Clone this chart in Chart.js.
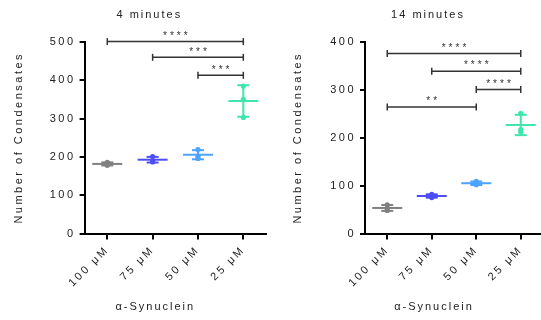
<!DOCTYPE html>
<html><head><meta charset="utf-8">
<script src="https://cdn.jsdelivr.net/npm/chart.js@4/dist/chart.umd.min.js"></script>
<style>
html,body{margin:0;padding:0;background:#fff;overflow:hidden;width:541px;height:320px;position:relative;}
#c1{position:absolute;left:0;top:0;width:270px;height:320px;}
#c2{position:absolute;left:270px;top:0;width:273px;height:320px;}
</style></head><body>
<canvas id="c1" width="270" height="320"></canvas>
<canvas id="c2" width="273" height="320"></canvas>
<script>
// ---- data ----
const categories = ['100 μM', '75 μM', '50 μM', '25 μM'];
const seriesColors = ['#808080', '#4D4DF5', '#4DA3FF', '#3FE6AB'];
const min4Values = [[186, 181, 178], [201, 190, 187], [219, 202, 196], [385, 350, 303]];
const min14Values = [[60, 52, 48], [82, 78, 75], [109, 104, 102], [251, 217, 212]];
const min4BracketFrom = ['100 μM', '75 μM', '50 μM'];
const min4BracketTo = ['25 μM', '25 μM', '25 μM'];
const min4BracketY = [501, 460, 413];
const min4BracketStars = ['****', '***', '***'];
const min14BracketFrom = ['100 μM', '75 μM', '50 μM', '100 μM'];
const min14BracketTo = ['25 μM', '25 μM', '25 μM', '50 μM'];
const min14BracketY = [376, 339, 301, 264];
const min14BracketStars = ['****', '****', '****', '**'];
const yTicks4 = [0, 100, 200, 300, 400, 500];
const yTicks14 = [0, 100, 200, 300, 400];

const FONT = "'Liberation Sans', Arial, sans-serif";
Chart.defaults.font.family = FONT;
Chart.defaults.color = '#222';

function mean(a) { return a.reduce((s, v) => s + v, 0) / a.length; }
function sd(a) { const m = mean(a); return Math.sqrt(a.reduce((s, v) => s + (v - m) * (v - m), 0) / (a.length - 1)); }

function buildDatasets(values, bFrom, bTo, bY) {
  const ds = [];
  values.forEach((vals, i) => {
    ds.push({ data: vals.map(v => ({ x: categories[i], y: v })), showLine: false,
      pointStyle: 'circle', pointRadius: 2.6, pointBackgroundColor: seriesColors[i],
      pointBorderColor: seriesColors[i], pointBorderWidth: 0, clip: false });
  });
  values.forEach((vals, i) => {
    const m = mean(vals), s = sd(vals);
    ds.push({ data: [{ x: categories[i], y: m }], showLine: false, pointStyle: 'line',
      pointRadius: 15, pointBorderWidth: 2, pointBorderColor: seriesColors[i], clip: false });
    ds.push({ data: [{ x: categories[i], y: m + s }, { x: categories[i], y: m - s }], showLine: true,
      borderColor: seriesColors[i], borderWidth: 2, pointStyle: 'line', pointRadius: 6,
      pointBorderWidth: 2, pointBorderColor: seriesColors[i], clip: false });
  });
  bY.forEach((y, i) => {
    ds.push({ data: [{ x: bFrom[i], y: y }, { x: bTo[i], y: y }], showLine: true,
      borderColor: '#333', borderWidth: 1.5, pointStyle: 'line', pointRotation: 90,
      pointRadius: 3.5, pointBorderWidth: 1.5, pointBorderColor: '#333', clip: false });
  });
  return ds;
}

const spacingPlugin = {
  id: 'spacing',
  beforeUpdate(c) { c.ctx.letterSpacing = '2.5px'; },
  beforeDraw(c) { c.ctx.letterSpacing = '2.5px'; }
};

function textPlugin(title, bFrom, bTo, bY, bStars) {
  return {
    id: 'texts',
    afterDraw(c) {
      const ctx = c.ctx, xs = c.scales.x, ys = c.scales.y, ca = c.chartArea;
      const cx = (ca.left + ca.right) / 2;
      ctx.save();
      ctx.fillStyle = '#222';
      ctx.textAlign = 'center';
      ctx.textBaseline = 'middle';
      ctx.letterSpacing = '2px';
      ctx.font = '11px ' + FONT;
      ctx.fillText(title, cx - 26, 15);
      ctx.fillText('α-Synuclein', cx - 20, 306.5);
      ctx.font = '10px ' + FONT;
      ctx.letterSpacing = '3px';
      ctx.fillStyle = '#333';
      bY.forEach((y, i) => {
        const x1 = xs.getPixelForValue(categories.indexOf(bFrom[i]));
        const x2 = xs.getPixelForValue(categories.indexOf(bTo[i]));
        ctx.fillText(bStars[i], (x1 + x2) / 2 + 1.5, ys.getPixelForValue(y) - 5.5);
      });
      ctx.restore();
    }
  };
}

function makeChart(id, title, values, ymax, yTicks, yWidth, yTitlePad, rightPad, bFrom, bTo, bY, bStars) {
  return new Chart(document.getElementById(id), {
    type: 'line',
    data: { labels: categories, datasets: buildDatasets(values, bFrom, bTo, bY) },
    options: {
      responsive: false, animation: false, devicePixelRatio: 1,
      layout: { autoPadding: false, padding: { top: 42, right: rightPad, bottom: 0, left: 0 } },
      plugins: { legend: { display: false }, tooltip: { enabled: false }, title: { display: false } },
      scales: {
        x: {
          type: 'category', labels: categories, offset: true,
          grid: { display: true, drawOnChartArea: false, drawTicks: true, tickLength: 6, color: '#000', lineWidth: 2, offset: false },
          border: { display: true, color: '#000', width: 2 },
          ticks: { minRotation: 45, maxRotation: 45, padding: 4, color: '#222', font: { size: 11 }, autoSkip: false },
          afterFit(s) { s.height = 86.5; s.paddingLeft = 0; s.paddingRight = 0; }
        },
        y: {
          min: 0, max: ymax,
          afterBuildTicks(s) { s.ticks = yTicks.map(v => ({ value: v })); },
          ticks: { padding: 4, color: '#222', font: { size: 11 } },
          grid: { display: true, drawOnChartArea: false, drawTicks: true, tickLength: 5, color: '#000', lineWidth: 2 },
          border: { display: true, color: '#000', width: 2 },
          title: { display: true, text: 'Number of Condensates', color: '#222', font: { size: 11 }, padding: { top: yTitlePad, bottom: 0 } },
          afterFit(s) { s.width = yWidth; }
        }
      }
    },
    plugins: [spacingPlugin, textPlugin(title, bFrom, bTo, bY, bStars)]
  });
}

makeChart('c1', '4 minutes', min4Values, 500, yTicks4, 84.6, 12, 4,
  min4BracketFrom, min4BracketTo, min4BracketY, min4BracketStars);
makeChart('c2', '14 minutes', min14Values, 400, yTicks14, 95, 21, 0,
  min14BracketFrom, min14BracketTo, min14BracketY, min14BracketStars);
</script>
</body></html>
